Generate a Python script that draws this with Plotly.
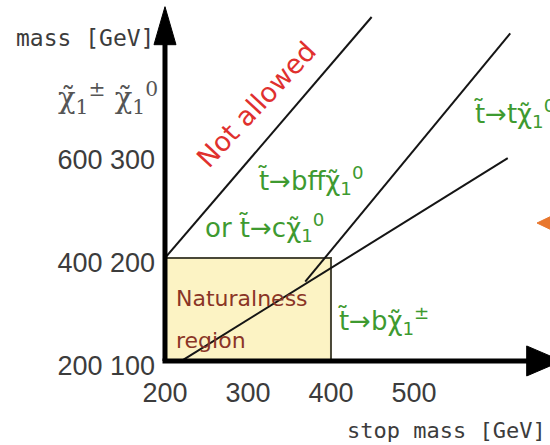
import plotly.graph_objects as go

W, H = 550, 445

# ---- data (GeV) ----
x_ticks = [200, 300, 400, 500]
chargino_ticks = [200, 400, 600]
neutralino_ticks = [100, 200, 300]

# kinematic boundary m(stop) ~ m(chi0)  ("Not allowed" above)
kin_x = [200, 449]
kin_y = [200, 434]
# m(stop) ~ m(top) + m(chi0)
top_x = [369, 616]
top_y = [177, 418]
# t -> b chi+- boundary
bch_x = [220, 613]
bch_y = [100, 297]
# naturalness region
nat_x = [200, 400]
nat_y = [100, 200]

# axis extents
origin = (200, 100)
y_axis_tip = 444
x_axis_tip = 678

XR = [1.2, 663.9]
YR = [18.4, 450.5]
gev_per_px_x = (XR[1] - XR[0]) / W
gev_per_px_y = (YR[1] - YR[0]) / H

fig = go.Figure()

line_style = dict(color="#151515", width=2)
for xs, ys in [(kin_x, kin_y), (top_x, top_y), (bch_x, bch_y)]:
    fig.add_trace(go.Scatter(x=xs, y=ys, mode="lines", line=line_style,
                             hoverinfo="skip", showlegend=False))

# axes (thick black) with arrowheads
head_len_y = 38 * gev_per_px_y
head_half_y = 11 * gev_per_px_x
fig.add_trace(go.Scatter(x=[origin[0], origin[0]], y=[origin[1], y_axis_tip - head_len_y + 2],
                         mode="lines", line=dict(color="black", width=5),
                         hoverinfo="skip", showlegend=False))
fig.add_trace(go.Scatter(x=[origin[0] - head_half_y, origin[0] + head_half_y, origin[0], origin[0] - head_half_y],
                         y=[y_axis_tip - head_len_y] * 2 + [y_axis_tip, y_axis_tip - head_len_y],
                         mode="lines", fill="toself", fillcolor="black", line=dict(color="black", width=1),
                         hoverinfo="skip", showlegend=False))
head_len_x = 35 * gev_per_px_x
head_half_x = 15 * gev_per_px_y
fig.add_trace(go.Scatter(x=[origin[0] - 2.5 * gev_per_px_x, x_axis_tip - head_len_x + 2], y=[origin[1], origin[1]],
                         mode="lines", line=dict(color="black", width=5),
                         hoverinfo="skip", showlegend=False))
fig.add_trace(go.Scatter(x=[x_axis_tip - head_len_x] * 2 + [x_axis_tip, x_axis_tip - head_len_x],
                         y=[origin[1] - head_half_x, origin[1] + head_half_x, origin[1], origin[1] - head_half_x],
                         mode="lines", fill="toself", fillcolor="black", line=dict(color="black", width=1),
                         hoverinfo="skip", showlegend=False))

# naturalness box
fig.add_shape(type="rect", xref="x", yref="y", x0=nat_x[0], x1=nat_x[1], y0=nat_y[0], y1=nat_y[1],
              fillcolor="#fcf3c4", line=dict(color="#4a4838", width=2), layer="below")

# orange arrow at right edge
def P(xp, yp):
    return xp / W, 1 - yp / H

ox1, oy1 = P(537, 223)
ox2, oy2 = P(560, 212)
ox3, oy3 = P(560, 234)
fig.add_shape(type="path", xref="paper", yref="paper",
              path=f"M {ox1} {oy1} L {ox2} {oy2} L {ox3} {oy3} Z",
              fillcolor="#e8772e", line=dict(color="#e8772e", width=1))

ann = []
def A(text, xp, yp, size, color, xanchor="center", angle=0, family="DejaVu Sans"):
    x, y = P(xp, yp)
    ann.append(dict(text=text, x=x, y=y, xref="paper", yref="paper", showarrow=False,
                    xanchor=xanchor, yanchor="middle", textangle=angle,
                    font=dict(size=size, color=color, family=family)))

gray = "#3c3c3c"
green = "#3e9a30"
mono = "DejaVu Sans Mono"
A("mass [GeV]", 14, 38, 23, gray, xanchor="left", family=mono)
chi = "\u03c7\u0303"
A(f"{chi}<sub>1</sub><sup>\u00b1</sup> {chi}<sub>1</sub><sup>0</sup>", 160, 98, 29, "#555555",
  xanchor="right", family="DejaVu Serif")
A("stop mass [GeV]", 345, 430, 22, gray, xanchor="left", family=mono)
A("Not allowed", 256, 104, 27, "#e0302e", angle=-47)
tt = "t\u0303"
A(f"{tt}\u2192bff{chi}<sub>1</sub><sup>0</sup>", 256, 180, 26, green, xanchor="left")
A(f"or {tt}\u2192c{chi}<sub>1</sub><sup>0</sup>", 203, 228, 26, green, xanchor="left")
A("Naturalness", 174, 298, 22, "#8a3526", xanchor="left")
A("region", 174, 340, 22, "#8a3526", xanchor="left")
A(f"{tt}\u2192b{chi}<sub>1</sub><sup>\u00b1</sup>", 336, 320, 26, green, xanchor="left")
A(f"{tt}\u2192t{chi}<sub>1</sub><sup>0</sup>", 472, 114, 26, green, xanchor="left")

tick_font = dict(size=27, color=gray, family="Liberation Sans, Arial")
fig.update_layout(
    width=W, height=H, margin=dict(l=0, r=0, t=0, b=0),
    paper_bgcolor="white", plot_bgcolor="white",
    annotations=ann,
    xaxis=dict(range=XR, showgrid=False, zeroline=False, showline=False,
               tickvals=x_ticks, ticktext=[str(v) for v in x_ticks], ticks="",
               anchor="free", position=(H - 361) / H, ticklabelstandoff=13,
               tickfont=tick_font, fixedrange=True),
    yaxis=dict(range=YR, showgrid=False, zeroline=False, showline=False,
               tickvals=neutralino_ticks,
               ticktext=[f"{c} {n}" for c, n in zip(chargino_ticks, neutralino_ticks)],
               ticks="", anchor="free", position=165 / W, ticklabelstandoff=10,
               ticklabelshift=5, tickfont=tick_font, fixedrange=True),
)

fig.write_html("out.html", config={"displayModeBar": False},
               post_script="document.body.style.margin='0';document.body.style.overflow='hidden';")
